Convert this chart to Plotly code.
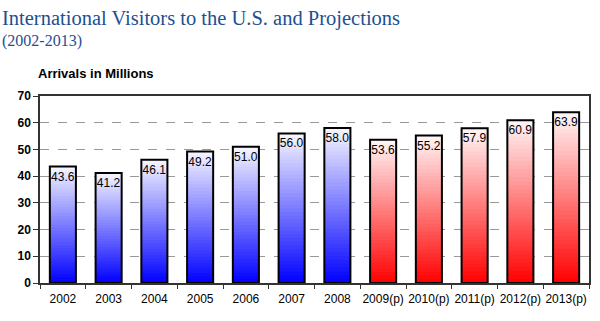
import plotly.graph_objects as go

# Arrivals (millions) by year; (p) marks projected years
years = ["2002", "2003", "2004", "2005", "2006", "2007", "2008",
         "2009(p)", "2010(p)", "2011(p)", "2012(p)", "2013(p)"]
arrivals = [43.6, 41.2, 46.1, 49.2, 51.0, 56.0, 58.0,
            53.6, 55.2, 57.9, 60.9, 63.9]
projected = [False] * 7 + [True] * 5
y_ticks = [0, 10, 20, 30, 40, 50, 60, 70]

BAR_W = 0.57
STEPS = 40


def blend(rgb, t):
    """Mix a colour towards white; t=0 gives the colour, t=1 gives white."""
    r, g, b = (round(c + (255 - c) * t) for c in rgb)
    return f"rgb({r},{g},{b})"


fig = go.Figure()

# Vertical gradient: each layer starts higher and is lighter, covering the one below
for k in range(STEPS):
    frac = k / STEPS
    t = min(1.0, (k + 0.5) / STEPS * 0.97)
    colors = [blend((255, 0, 0) if p else (0, 0, 255), t) for p in projected]
    fig.add_trace(go.Bar(
        x=years,
        y=[v * (1 - frac) for v in arrivals],
        base=[v * frac for v in arrivals],
        width=BAR_W,
        marker=dict(color=colors, line=dict(width=0)),
        hoverinfo="skip",
        showlegend=False,
    ))

# Outline and value labels
fig.add_trace(go.Bar(
    x=years,
    y=arrivals,
    width=BAR_W,
    marker=dict(color="rgba(0,0,0,0)", line=dict(color="black", width=2)),
    text=[f"{v:.1f}" for v in arrivals],
    textposition="inside",
    insidetextanchor="end",
    textangle=0,
    textfont=dict(family="Liberation Sans, Arial, sans-serif", size=12, color="black"),
    showlegend=False,
))

fig.update_layout(
    barmode="overlay",
    width=600, height=321,
    margin=dict(l=40, r=11, t=96, b=38),
    paper_bgcolor="white",
    plot_bgcolor="white",
    font=dict(family="Liberation Sans, Arial, sans-serif", color="black"),
    uniformtext=dict(mode="show", minsize=12),
)

fig.update_xaxes(
    type="category",
    tickson="boundaries",
    tickangle=0,
    automargin=False,
    ticks="outside", ticklen=4, tickcolor="#333",
    ticklabelstandoff=4,
    showline=True, linecolor="#333", linewidth=1.5, mirror=True,
    tickfont=dict(size=12, color="black"),
    showgrid=False,
)
fig.update_yaxes(
    range=[0, 70], tickvals=y_ticks,
    automargin=False,
    ticks="outside", ticklen=5, tickcolor="#333",
    showline=True, linecolor="#333", linewidth=1.5, mirror=True,
    showgrid=True, gridcolor="#999", griddash="dash", gridwidth=1,
    tickfont=dict(size=12, color="black", family="Liberation Sans, Arial, sans-serif", weight="bold"),
    zeroline=False,
)

# Title, subtitle and axis caption
fig.add_annotation(
    text="International Visitors to the U.S. and Projections",
    xref="paper", yref="paper", x=-40 / 549, y=1 + 64 / 187,
    xanchor="left", yanchor="bottom", showarrow=False,
    font=dict(family="Liberation Serif, Georgia, serif", size=20.5, color="#1d4f91"),
)
fig.add_annotation(
    text="(2002-2013)",
    xref="paper", yref="paper", x=-40 / 549, y=1 + 44 / 187,
    xanchor="left", yanchor="bottom", showarrow=False,
    font=dict(family="Liberation Serif, Georgia, serif", size=16, color="#1d4f91"),
)
fig.add_annotation(
    text="<b>Arrivals in Millions</b>",
    xref="paper", yref="paper", x=-4 / 549, y=1 + 13 / 187,
    xanchor="left", yanchor="bottom", showarrow=False,
    font=dict(size=13, color="black"),
)

fig.write_html("out.html")
